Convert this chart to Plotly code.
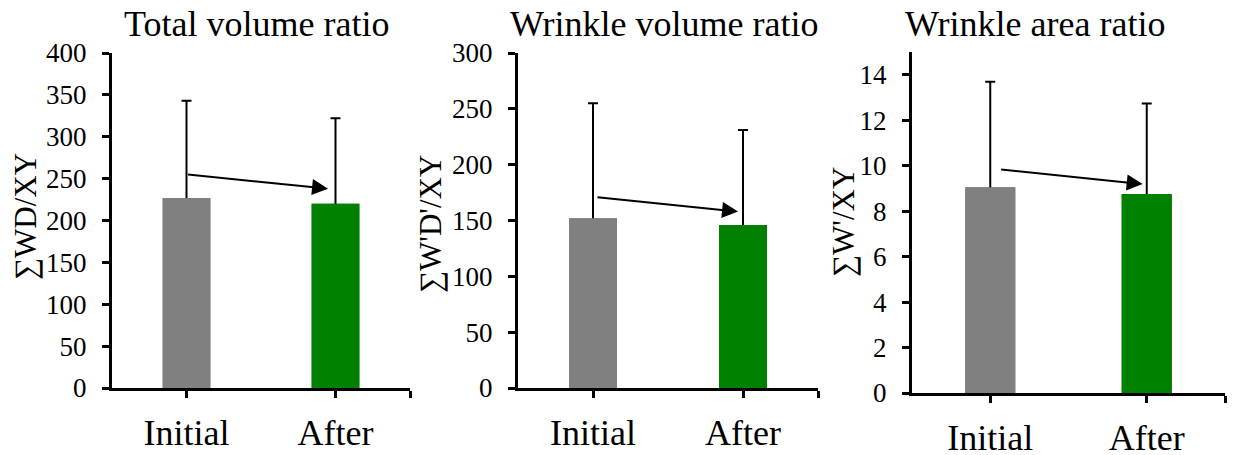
import plotly.graph_objects as go

categories = ["Initial", "After"]
titles = ["Total volume ratio", "Wrinkle volume ratio", "Wrinkle area ratio"]
ytitles = ["∑WD/XY", "∑W'D'/XY", "∑W'/XY"]
total_mean = [227, 220]
total_err = [116, 102]
wvol_mean = [152, 146]
wvol_err = [103, 85]
warea_mean = [9.05, 8.75]
warea_err = [4.64, 3.98]
arrow_total = [255, 238]
arrow_wvol = [171, 158]
arrow_warea = [9.84, 9.19]
colors = ["#808080", "#008000"]

means = [total_mean, wvol_mean, warea_mean]
errs = [total_err, wvol_err, warea_err]
arrows = [arrow_total, arrow_wvol, arrow_warea]
arrow_x = [(0.0, 0.95), (0.02, 0.967), (0.06, 0.974)]
yranges = [[0, 400], [0, 300], [0, 15]]
ydticks = [50, 50, 2]

W, H = 1235, 455
OFF = 8  # page body margin
xdoms = [(112, 410), (518, 818), (912, 1225)]
ydoms = [(388, 53), (388, 53), (393, 52)]
title_x = [256, 664, 1035]
ytitle_pos = [(25, 217), (430, 224), (843, 222)]


def px_x(v):
    return (v - OFF) / W


def px_y(v):
    return (H - (v - OFF)) / H


FONT = "Liberation Serif, Times New Roman, serif"
fig = go.Figure()
layout = dict(width=W, height=H, margin=dict(l=0, r=0, t=0, b=0, autoexpand=False),
              plot_bgcolor="white", paper_bgcolor="white", showlegend=False,
              barmode="overlay",
              font=dict(family=FONT, color="black"))
annotations = []
for i in range(3):
    xa = "x" if i == 0 else f"x{i+1}"
    ya = "y" if i == 0 else f"y{i+1}"
    hide = yranges[i][1] * 0.03  # lower cap tucked inside the bar
    fig.add_trace(go.Bar(
        x=[0, 1], y=means[i], width=0.32, marker=dict(color=colors, line=dict(width=0)),
        error_y=dict(type="data", symmetric=False, array=errs[i], arrayminus=[hide, hide],
                     color="black", thickness=2, width=5),
        xaxis=xa, yaxis=ya))
    # overlay bars hide the lower part of the error bars
    fig.add_trace(go.Bar(
        x=[0, 1], y=means[i], width=0.32, marker=dict(color=colors, line=dict(width=0)),
        xaxis=xa, yaxis=ya, hoverinfo="skip"))
    xkey = "xaxis" if i == 0 else f"xaxis{i+1}"
    ykey = "yaxis" if i == 0 else f"yaxis{i+1}"
    layout[xkey] = dict(domain=[px_x(xdoms[i][0]), px_x(xdoms[i][1])], range=[-0.5, 1.5],
                        tickvals=[0, 1, 1.5], ticktext=categories + [""],
                        showline=True, linecolor="black", linewidth=3,
                        ticks="outside", ticklen=7, tickwidth=3, tickcolor="black",
                        tickfont=dict(size=36, family=FONT), ticklabelstandoff=4,
                        showgrid=False, zeroline=False, anchor=ya, fixedrange=True,
                        automargin=False)
    layout[ykey] = dict(domain=[px_y(ydoms[i][0]), px_y(ydoms[i][1])],
                        range=yranges[i], dtick=ydticks[i], tick0=0,
                        showline=True, linecolor="black", linewidth=3,
                        ticks="outside", ticklen=7, tickwidth=3, tickcolor="black",
                        tickfont=dict(size=27, family=FONT), ticklabelstandoff=10,
                        showgrid=False, zeroline=False, anchor=xa, fixedrange=True,
                        automargin=False)
    annotations.append(dict(x=arrow_x[i][1], y=arrows[i][1], ax=arrow_x[i][0], ay=arrows[i][0],
                            xref=xa, yref=ya, axref=xa, ayref=ya, text="",
                            showarrow=True, arrowhead=2, arrowsize=1.6, arrowwidth=2,
                            arrowcolor="black"))
    annotations.append(dict(x=px_x(title_x[i]), y=px_y(24), xref="paper", yref="paper",
                            text=titles[i], showarrow=False, xanchor="center", yanchor="middle",
                            font=dict(size=36, family=FONT)))
    annotations.append(dict(x=px_x(ytitle_pos[i][0]), y=px_y(ytitle_pos[i][1]),
                            xref="paper", yref="paper", text=ytitles[i], textangle=-90,
                            showarrow=False, xanchor="center", yanchor="middle",
                            font=dict(size=31, family=FONT)))
layout["annotations"] = annotations
fig.update_layout(**layout)
fig.write_html("out.html")
